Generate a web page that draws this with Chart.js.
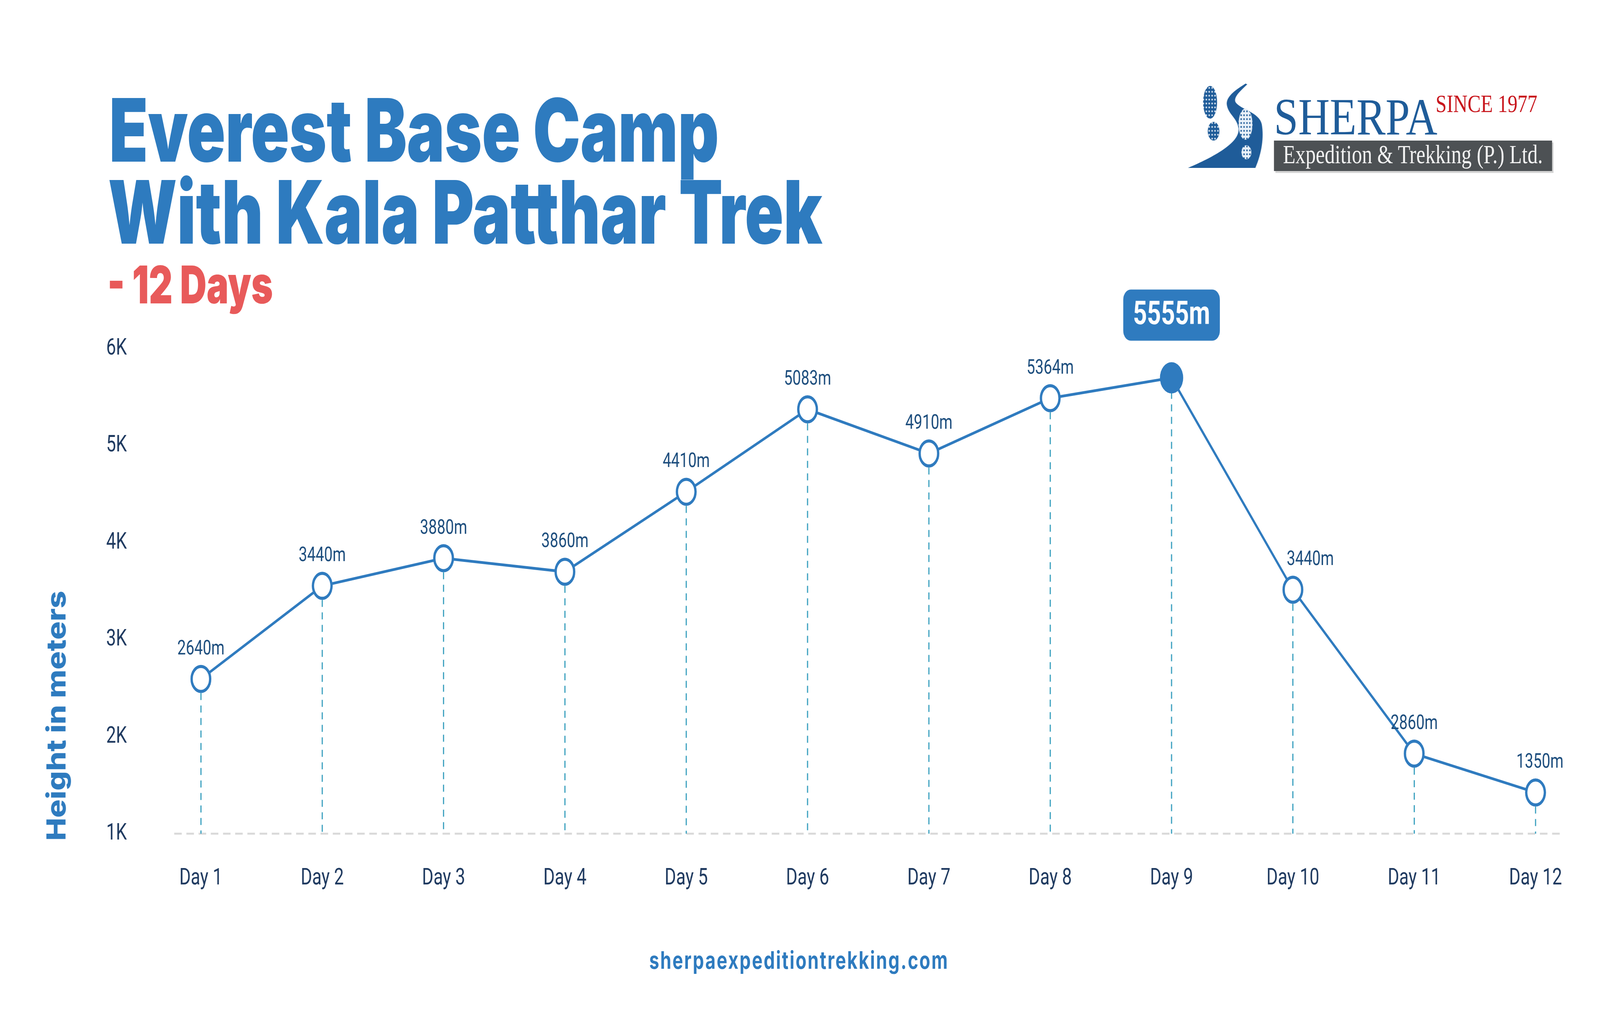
<!DOCTYPE html>
<html>
<head>
<meta charset="utf-8">
<script src="https://cdn.jsdelivr.net/npm/chart.js@4.4.1/dist/chart.umd.min.js"></script>
<style>
  html, body { margin: 0; padding: 0; background: #fff; overflow: hidden; }
  #stage { position: absolute; left: 0; top: 0; width: 5511px; height: 2584px; transform-origin: 0 0; background: #fff; }
  #c { position: absolute; left: 0; top: 0; }
  .t { position: absolute; left: 0; top: 0; white-space: nowrap; line-height: 1; transform-origin: 0 0; }
  .m { display: inline-block; width: 0; height: 0; }
  .title { font-family: Inter, sans-serif; font-weight: 900; color: #2e7bbf; }
  .serif { font-family: "Liberation Serif", serif; }
  #box { position: absolute; left: 4388px; top: 360px; width: 958px; height: 78px; background: #4d5154; box-shadow: 5px 5px 0 #d4d4d4; }
  #road { position: absolute; left: 4080px; top: 200px; }
</style>
</head>
<body>
<div id="stage">
<canvas id="c" width="5511" height="2584" style="width:5511px;height:2584px"></canvas>

<div class="t title" style="font-size:224px" data-x="376" data-b="414" data-w="2100"><i class="m"></i>Everest Base Camp</div>
<div class="t title" style="font-size:224px" data-x="372" data-b="624" data-w="2460"><i class="m"></i>With Kala Patthar Trek</div>
<div class="t title" style="font-size:133px;color:#e85a5a" data-x="370" data-b="777" data-w="570"><i class="m"></i>- 12 Days</div>
<div class="t" id="ytitle" style="font-family:Inter,sans-serif;font-weight:800;font-size:90px;color:#2e7bbf">Height in meters</div>
<div class="t" style="font-family:Inter,sans-serif;font-weight:700;font-size:62px;color:#2e7bbf;letter-spacing:4px" data-x="2236" data-b="2481" data-w="1032"><i class="m"></i>sherpaexpeditiontrekking.com</div>

<svg id="road" width="300" height="250" viewBox="4080 200 300 250">
  <defs>
    <pattern id="dotsW" width="10" height="10" patternUnits="userSpaceOnUse">
      <rect width="10" height="10" fill="#1f5c99"/><circle cx="5" cy="5" r="2.6" fill="#dfe9f4"/>
    </pattern>
    <pattern id="dotsB" width="10" height="10" patternUnits="userSpaceOnUse">
      <rect width="10" height="10" fill="#e8f0f8"/><circle cx="5" cy="5" r="2.6" fill="#1f5c99"/>
    </pattern>
  </defs>
  <path d="M4290,214 C4262,228 4220,246 4226,270 C4232,294 4262,302 4266,330 C4270,366 4180,402 4092,430 L4324,430 C4346,392 4354,352 4346,318 C4338,288 4272,280 4256,262 C4246,248 4280,228 4296,216 Z" fill="#1f5c99"/>
  <ellipse cx="4168" cy="262" rx="24" ry="42" fill="url(#dotsW)"/>
  <ellipse cx="4180" cy="336" rx="20" ry="24" fill="url(#dotsW)"/>
  <ellipse cx="4290" cy="318" rx="24" ry="40" fill="url(#dotsB)"/>
  <ellipse cx="4293" cy="390" rx="17" ry="18" fill="url(#dotsB)"/>
</svg>
<div class="t serif" style="font-size:134px;color:#1f5c99" data-x="4388" data-b="344" data-w="563"><i class="m"></i>SHERPA</div>
<div class="t serif" style="font-size:64px;color:#c8161d" data-x="4945" data-b="287" data-w="350"><i class="m"></i>SINCE 1977</div>
<div id="box"></div>
<div class="t serif" style="font-size:68px;color:#f2f2f2" data-x="4419" data-b="418" data-w="895"><i class="m"></i>Expedition &amp; Trekking (P.) Ltd.</div>
</div>

<script>
// chart data
const days = ['Day 1', 'Day 2', 'Day 3', 'Day 4', 'Day 5', 'Day 6', 'Day 7', 'Day 8', 'Day 9', 'Day 10', 'Day 11', 'Day 12'];
const heights = [2595, 3555, 3840, 3700, 4525, 5375, 4920, 5490, 5700, 3515, 1825, 1425];
const heightLabels = ['2640m', '3440m', '3880m', '3860m', '4410m', '5083m', '4910m', '5364m', '5555m', '3440m', '2860m', '1350m'];
const yTicks = [1000, 2000, 3000, 4000, 5000, 6000];

const blue = '#2f7bbf';
const navy = '#1f3a60';
const peak = heights.indexOf(Math.max(...heights));
const labelShift = days.map((d, i) => (i === 9 ? 60 : i === 11 ? 15 : 0));

const decor = {
  id: 'decor',
  beforeDatasetsDraw(chart) {
    const ctx = chart.ctx;
    const xs = chart.scales.x, ys = chart.scales.y;
    const base = ys.getPixelForValue(yTicks[0]);
    const step = xs.getPixelForValue(1) - xs.getPixelForValue(0);
    ctx.save();
    // dashed baseline
    ctx.strokeStyle = '#d9d9d9';
    ctx.lineWidth = 5;
    ctx.setLineDash([26, 16]);
    ctx.beginPath();
    ctx.moveTo(chart.chartArea.left - step * 0.22, base);
    ctx.lineTo(chart.chartArea.right + step * 0.2, base);
    ctx.stroke();
    // drop lines
    ctx.strokeStyle = '#3aa0bf';
    ctx.lineWidth = 4;
    ctx.setLineDash([18, 14]);
    chart.getDatasetMeta(0).data.forEach(p => {
      ctx.beginPath();
      ctx.moveTo(p.x, p.y + 36);
      ctx.lineTo(p.x, base);
      ctx.stroke();
    });
    ctx.restore();
  },
  afterDatasetsDraw(chart) {
    const ctx = chart.ctx;
    ctx.save();
    ctx.textAlign = 'center';
    ctx.textBaseline = 'middle';
    chart.getDatasetMeta(0).data.forEach((p, i) => {
      if (i === peak) {
        const w = 333, h = 131;
        const bx = p.x - w / 2, by = p.y - 95 - h;
        ctx.fillStyle = blue;
        ctx.beginPath();
        ctx.roundRect(bx, by, w, h, 26);
        ctx.fill();
        ctx.fillStyle = '#fff';
        ctx.font = 'bold 84px Roboto';
        ctx.fillText(heightLabels[i], p.x, by + h / 2 + 2);
      } else {
        ctx.fillStyle = '#1c4d7d';
        ctx.font = '52px Roboto';
        ctx.fillText(heightLabels[i], p.x + labelShift[i], p.y - 76);
      }
    });
    ctx.restore();
  }
};

new Chart(document.getElementById('c'), {
  type: 'line',
  data: {
    labels: days,
    datasets: [{
      data: heights,
      borderColor: blue,
      borderWidth: 7,
      tension: 0,
      pointRadius: heights.map((v, i) => (i === peak ? 36 : 32)),
      pointBorderWidth: 8,
      pointBorderColor: blue,
      pointBackgroundColor: heights.map((v, i) => (i === peak ? blue : '#fff'))
    }]
  },
  options: {
    responsive: false,
    devicePixelRatio: 1,
    animation: false,
    layout: { padding: { top: 893, right: 222, bottom: 0, left: 0 } },
    plugins: { legend: { display: false }, tooltip: { enabled: false } },
    scales: {
      x: {
        offset: false,
        grid: { display: false, drawTicks: false },
        border: { display: false },
        ticks: { autoSkip: false, maxRotation: 0, padding: 79, color: navy, font: { family: 'Roboto', size: 60 } },
        afterFit: s => { s.height = 449; }
      },
      y: {
        min: yTicks[0],
        max: yTicks[yTicks.length - 1],
        grid: { display: false, drawTicks: false },
        border: { display: false },
        afterBuildTicks: s => { s.ticks = yTicks.map(v => ({ value: v })); },
        ticks: { padding: 255, color: navy, font: { family: 'Roboto', size: 60 }, callback: v => v / 1000 + 'K' },
        afterFit: s => { s.width = 692; }
      }
    }
  },
  plugins: [decor]
});

// position html text by its baseline and stretch it to the measured width
function place(el) {
  const d = el.dataset;
  el.style.left = d.x + 'px';
  el.style.top = '0px';
  const w = el.getBoundingClientRect().width;
  const b = el.querySelector('.m').getBoundingClientRect().top;
  el.style.top = (d.b - b) + 'px';
  el.style.transform = 'scaleX(' + (d.w / w) + ')';
}
function placeYTitle() {
  const el = document.getElementById('ytitle');
  const r = el.getBoundingClientRect();
  el.style.transformOrigin = '50% 50%';
  el.style.left = (193 - r.width / 2) + 'px';
  el.style.top = (1833 - r.height / 2) + 'px';
  el.style.transform = 'rotate(-90deg) scaleX(' + (640 / r.width) + ')';
}
// the window may be smaller than the 5511x2584 design, so fit the stage into it
function fitStage() {
  const stage = document.getElementById('stage');
  stage.style.transform = 'scale(' + (window.innerWidth / 5511) + ',' + (window.innerHeight / 2584) + ')';
}
document.fonts.ready.then(() => {
  document.querySelectorAll('.t[data-x]').forEach(place);
  placeYTitle();
  fitStage();
});
</script>
</body>
</html>
